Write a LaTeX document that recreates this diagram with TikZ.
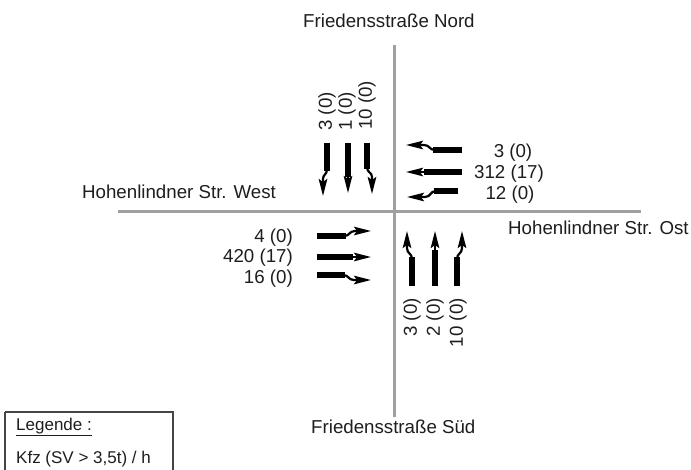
\documentclass[tikz,border=0pt]{standalone}
\usepackage{fontspec}
\setmainfont{Liberation Sans}
\usetikzlibrary{arrows.meta}
\definecolor{roadgray}{HTML}{A0A0A0}
\definecolor{txt}{HTML}{1E1E1E}
\definecolor{legendframe}{HTML}{454545}
\begin{document}
\begin{tikzpicture}[x=1pt,y=-1pt,
  roadline/.style={draw=roadgray,line width=3pt},
  shaft/.style={line width=5.2pt,line cap=butt},
  tipline/.style={line width=2.2pt,-{Stealth[length=17pt,width=8.5pt,inset=3pt]}},
  lbl/.style={inner sep=0pt,text=txt,font=\fontsize{18.7}{22}\selectfont},
  leglbl/.style={inner sep=0pt,text=txt,font=\fontsize{17}{20}\selectfont,anchor=base west},
]
\useasboundingbox (0,0) rectangle (691,469);
\fill[white] (0,0) rectangle (691,469);

% roads
\draw[roadline] (394,45) -- (394,417);
\draw[roadline] (118,211.5) -- (641,211.5);

% street names
\node[lbl,anchor=base west] (nord) at (303,27) {Friedensstraße Nord};
\node[lbl,anchor=base west] (west) at (82,198) {Hohenlindner Str. West};
\node[lbl,anchor=base west] (ost) at (508,234) {Hohenlindner Str. Ost};
\node[lbl,anchor=base west] (sued) at (311,433) {Friedensstraße Süd};

% north approach (southbound)
\draw[shaft] (327,143) -- (327,171);
\draw[tipline] (327,169) .. controls (327,175) and (323,174) .. (323,179) -- (323,196);
\draw[shaft] (348,143) -- (348,177);
\draw[tipline] (348,175) -- (348,193);
\draw[shaft] (367,143) -- (367,169);
\draw[tipline] (367,167) .. controls (367,173) and (372,172) .. (372,177) -- (372,194);
\node[lbl,rotate=90,anchor=west] (n1) at (327,131) {3 (0)};
\node[lbl,rotate=90,anchor=west] (n2) at (347,131) {1 (0)};
\node[lbl,rotate=90,anchor=west] (n3) at (367,130) {10 (0)};

% east approach (westbound)
\draw[shaft] (462,150) -- (433,150);
\draw[tipline] (435,150) .. controls (429,150) and (430,145) .. (424,145) -- (406,145);
\draw[shaft] (462,172) -- (424,172);
\draw[tipline] (426,172) -- (406,172);
\draw[shaft] (458,191) -- (434,191);
\draw[tipline] (436,191) .. controls (430,191) and (431,197) .. (425,197) -- (407,197);
\node[lbl] (e1) at (513,153) {3 (0)};
\node[lbl] (e2) at (509,174) {312 (17)};
\node[lbl] (e3) at (510,195) {12 (0)};

% west approach (eastbound)
\draw[shaft] (317,236) -- (346,236);
\draw[tipline] (344,236) .. controls (350,236) and (349,231) .. (355,231) -- (371,231);
\draw[shaft] (317,257) -- (353,257);
\draw[tipline] (351,257) -- (371,257);
\draw[shaft] (317,275) -- (345,275);
\draw[tipline] (343,275) .. controls (349,275) and (348,280) .. (354,280) -- (371,280);
\node[lbl,anchor=east] (w1) at (293,238) {4 (0)};
\node[lbl,anchor=east] (w2) at (293,258) {420 (17)};
\node[lbl,anchor=east] (w3) at (293,279) {16 (0)};

% south approach (northbound)
\draw[shaft] (412,286) -- (412,257);
\draw[tipline] (412,259) .. controls (412,253) and (407,254) .. (407,248) -- (407,231);
\draw[shaft] (435,286) -- (435,250);
\draw[tipline] (435,252) -- (435,231);
\draw[shaft] (457,286) -- (457,257);
\draw[tipline] (457,259) .. controls (457,253) and (462,254) .. (462,248) -- (462,231);
\node[lbl,rotate=90,anchor=east] (s1) at (412,298) {3 (0)};
\node[lbl,rotate=90,anchor=east] (s2) at (435,298) {2 (0)};
\node[lbl,rotate=90,anchor=east] (s3) at (458,298) {10 (0)};

% legend
\draw[draw=legendframe,line width=1.2pt] (5,412) -- (173,412) -- (173,472) (5,412) -- (5,472);
\node[leglbl] (leg) at (16,430) {\underline{Legende :}};
\node[leglbl] (kfz) at (16,463) {Kfz (SV > 3,5t) / h};
\end{tikzpicture}
\end{document}
